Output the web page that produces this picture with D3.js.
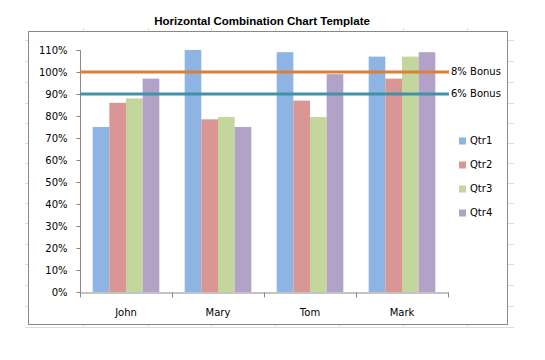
<!DOCTYPE html>
<html><head><meta charset="utf-8">
<script src="https://cdn.jsdelivr.net/npm/d3@7"></script>
<style>body{margin:0;background:#fff}svg{display:block}</style>
</head><body><div id="chart"></div>
<script>
const categories = ["John", "Mary", "Tom", "Mark"];
const seriesNames = ["Qtr1", "Qtr2", "Qtr3", "Qtr4"];
const qtr1 = [0.75, 1.10, 1.09, 1.07];
const qtr2 = [0.86, 0.785, 0.87, 0.97];
const qtr3 = [0.88, 0.795, 0.795, 1.07];
const qtr4 = [0.97, 0.75, 0.99, 1.09];
const bonusNames = ["8% Bonus", "6% Bonus"];
const bonusValues = [1.00, 0.90];
const yTicks = [0, 0.1, 0.2, 0.3, 0.4, 0.5, 0.6, 0.7, 0.8, 0.9, 1.0, 1.1];
const title = "Horizontal Combination Chart Template";

const seriesValues = [qtr1, qtr2, qtr3, qtr4];
const barColors = ["#8EB4E3", "#D99694", "#C3D69B", "#B3A2C7"];
const bonusColors = ["#DC7F37", "#3F93A9"];
const font = "DejaVu Sans, Verdana, sans-serif";

const W = 545, H = 360;
const svg = d3.select("#chart").append("svg").attr("width", W).attr("height", H);

// faint spreadsheet grid stubs around chart
const gridCol = "#D9DDE4";
const colXs = [83, 148, 211, 275, 339, 403, 467];
const rowYs = [40, 61, 82, 103, 123, 143, 163, 183, 203, 223, 244, 264, 285, 306];
const g0 = svg.append("g").attr("stroke", gridCol).attr("stroke-width", 1);
colXs.forEach(x => {
  g0.append("line").attr("x1", x + 0.5).attr("x2", x + 0.5).attr("y1", 28).attr("y2", 31);
  g0.append("line").attr("x1", x + 0.5).attr("x2", x + 0.5).attr("y1", 325).attr("y2", 328);
});
rowYs.forEach(y => {
  g0.append("line").attr("x1", 25).attr("x2", 28).attr("y1", y + 0.5).attr("y2", y + 0.5);
  g0.append("line").attr("x1", 508).attr("x2", 514).attr("y1", y + 0.5).attr("y2", y + 0.5);
});
g0.append("line").attr("x1", 25).attr("x2", 514).attr("y1", 327.5).attr("y2", 327.5);

// chart frame
svg.append("rect").attr("x", 28.5).attr("y", 31.5).attr("width", 479).attr("height", 293)
  .attr("fill", "#fff").attr("stroke", "#888").attr("stroke-width", 1);

// title
svg.append("text").attr("x", 262).attr("y", 22).attr("text-anchor", "middle")
  .attr("dominant-baseline", "middle")
  .attr("font-family", "Liberation Sans, Arial, sans-serif").attr("font-weight", "bold")
  .attr("font-size", 11.5).attr("fill", "#000").text(title);

const x0 = d3.scaleBand().domain(categories).range([80, 448]).paddingInner(0).paddingOuter(0);
const bw = x0.bandwidth();
const x1 = d3.scaleBand().domain(seriesNames).range([bw * 0.138, bw * 0.862]).padding(0);
const y = d3.scaleLinear().domain([0, 1.1]).range([292, 50]);

// bars
seriesNames.forEach((s, si) => {
  svg.append("g").selectAll("rect").data(categories).join("rect")
    .attr("x", c => x0(c) + x1(s))
    .attr("width", x1.bandwidth())
    .attr("y", (c, i) => y(seriesValues[si][i]))
    .attr("height", (c, i) => y(0) - y(seriesValues[si][i]))
    .attr("fill", barColors[si]);
});

// y axis
const yAxis = svg.append("g").attr("transform", "translate(80.5,0)")
  .call(d3.axisLeft(y).tickValues(yTicks).tickFormat(d3.format(".0%")).tickSize(4).tickPadding(9));
yAxis.select(".domain").attr("stroke", "#888").attr("d", "M-4," + (y(1.1) + 0.5) + "H0V" + (y(0) + 0.5));
yAxis.selectAll(".tick line").attr("stroke", "#888");
yAxis.selectAll("text").attr("font-family", font).attr("font-size", 10).attr("fill", "#000");

// x axis
const xAxis = svg.append("g").attr("transform", "translate(0," + (y(0) + 0.5) + ")")
  .call(d3.axisBottom(x0).tickSize(0).tickPadding(16));
xAxis.select(".domain").attr("stroke", "#888");
xAxis.selectAll("text").attr("font-family", font).attr("font-size", 10).attr("fill", "#000");
const edges = categories.map(c => x0(c)).concat([x0.range()[1]]);
xAxis.selectAll("line.edge").data(edges).join("line").attr("class", "edge")
  .attr("x1", d => Math.round(d) + 0.5).attr("x2", d => Math.round(d) + 0.5)
  .attr("y1", 0).attr("y2", 5).attr("stroke", "#888");

// bonus lines
bonusNames.forEach((b, i) => {
  svg.append("line").attr("x1", 80).attr("x2", 449)
    .attr("y1", y(bonusValues[i])).attr("y2", y(bonusValues[i]))
    .attr("stroke", bonusColors[i]).attr("stroke-width", 3);
  svg.append("text").attr("x", 451).attr("y", y(bonusValues[i]))
    .attr("dominant-baseline", "middle").attr("font-family", font)
    .attr("font-size", 10).attr("fill", "#000").text(b);
});

// legend
const lg = svg.append("g");
seriesNames.forEach((s, i) => {
  const cy = 141 + i * 24;
  lg.append("rect").attr("x", 459).attr("y", cy - 3.5).attr("width", 7).attr("height", 7).attr("fill", barColors[i]);
  lg.append("text").attr("x", 470).attr("y", cy).attr("dominant-baseline", "middle")
    .attr("font-family", font).attr("font-size", 10).attr("fill", "#000").text(s);
});
</script></body></html>
